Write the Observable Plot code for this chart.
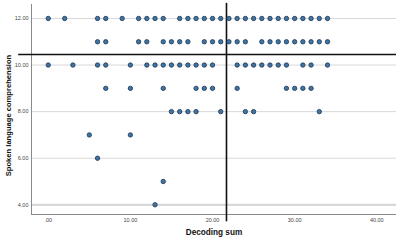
<!DOCTYPE html>
<html><head><meta charset="utf-8">
<script src="https://cdn.jsdelivr.net/npm/d3@7"></script>
<script src="https://cdn.jsdelivr.net/npm/@observablehq/plot@0.6"></script>
<style>
body{margin:0;background:#fff;}
#c{width:400px;height:240px;}
svg{font-family:"Liberation Sans",Arial,sans-serif;}
</style></head><body><div id="c"></div>
<script>
// Decoding sum values observed at each spoken-language-comprehension score
const score12 = [0,2,6,7,9,11,12,13,14,16,17,18,19,20,21,22,23,24,25,26,27,28,29,30,31,32,33,34];
const score11 = [6,7,11,12,14,15,16,17,19,20,21,22,23,24,26,27,28,29,30,31,32,33,34];
const score10 = [0,3,6,7,10,12,13,14,15,16,17,18,19,20,23,24,25,26,27,28,29,31,32,34];
const score9  = [7,10,14,18,19,20,23,29,30,31,32];
const score8  = [15,16,17,18,21,24,25,33];
const score7  = [5,10];
const score6  = [6];
const score5  = [14];
const score4  = [13];
const scores = [12,11,10,9,8,7,6,5,4];
const rows = [score12,score11,score10,score9,score8,score7,score6,score5,score4];
const yTicks = [4,6,8,10,12];
const xTicks = [0,10,20,30,40];
const meanDecoding = 21.7;
const meanComprehension = 10.45;

const data = [];
rows.forEach((r,i)=>r.forEach(x=>data.push({x, y: scores[i]})));

const xDom = [-2.04, 42.4];
const yDom = [3.583, 12.6];
const fmt = d => d === 0 ? ".00" : d.toFixed(2);

const chart = Plot.plot({
  width: 400, height: 240,
  marginLeft: 31, marginRight: 4, marginTop: 4, marginBottom: 26,
  x: {domain: xDom, label: null},
  y: {domain: yDom, label: null},
  style: {fontFamily: "Liberation Sans, Arial, sans-serif", background: "#fff"},
  marks: [
    Plot.ruleY(yTicks, {x1: xDom[0], x2: xDom[1], stroke: "#d8d8d8", strokeWidth: d => d === 4 ? 2.2 : 1}),
    Plot.ruleY([yDom[0]], {x1: xDom[0], x2: xDom[1], stroke: "#8a8a8a", strokeWidth: 1}),
    Plot.ruleX([xDom[0]], {y1: yDom[0], y2: yDom[1], stroke: "#8a8a8a", strokeWidth: 1}),
    Plot.axisY(yTicks, {tickSize: 0, tickPadding: 3, tickFormat: fmt, fontSize: 5.5, fill: "#444", label: null}),
    Plot.axisX(xTicks, {tickSize: 0, tickPadding: 4, tickFormat: fmt, fontSize: 5.5, fill: "#444", label: null}),
    Plot.ruleY([meanComprehension], {x1: -3.6, x2: xDom[1], stroke: "#111", strokeWidth: 1.6, clip: false}),
    Plot.ruleX([meanDecoding], {y1: 3.27, y2: 12.65, stroke: "#111", strokeWidth: 1.6, clip: false}),
    Plot.dot(data, {x: "x", y: "y", r: 2.2, fill: "#3f74a6", stroke: "#1c3550", strokeWidth: 0.8}),
    Plot.text(["Decoding sum"], {frameAnchor: "bottom", dy: 20, fontSize: 8.2, fontWeight: "bold", fill: "#111"}),
    Plot.text(["Spoken language comprehension"], {frameAnchor: "left", dx: -23, dy: 6, rotate: -90, textAnchor: "middle", fontSize: 7.6, fontWeight: "bold", fill: "#111"})
  ]
});
document.getElementById("c").appendChild(chart);
</script></body></html>
